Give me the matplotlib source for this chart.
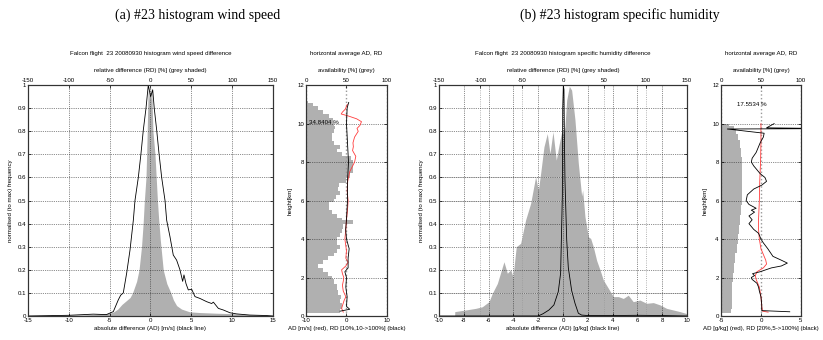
import matplotlib.pyplot as plt
import numpy as np
from matplotlib.ticker import FormatStrFormatter

plt.rcParams['font.family'] = ['Liberation Sans', 'DejaVu Sans']
plt.rcParams['axes.unicode_minus'] = False

# ---------- (a) wind speed: histogram ----------
# relative difference [%] -> normalised frequency (grey)
rd_a = [-150, -100, -80, -62, -50, -45, -40, -35, -30, -25,
        -22, -17, -14, -11, -9, -7.5, -5.5, -4.7, -4.0, -3.4,
        -2.9, -2.2, -1.2, 0.0, 1.0, 1.6, 2.2, 3.0, 5.5, 7.0,
        8.5, 10.0, 12.0, 15.6, 20.0, 25.0, 28.0, 32.0, 38.0, 48.0,
        60.0, 81.0, 101.0, 122.0, 140.0, 150.0]
fq_rd_a = [0.0, 0.003, 0.005, 0.008, 0.012, 0.018, 0.03, 0.05, 0.065, 0.08,
           0.1, 0.15, 0.2, 0.3, 0.4, 0.5, 0.6, 0.7, 0.8, 0.9,
           0.97, 0.99, 0.93, 1.0, 0.94, 0.99, 0.9, 0.8, 0.7, 0.6,
           0.5, 0.42, 0.33, 0.2, 0.14, 0.1, 0.07, 0.045, 0.03, 0.018,
           0.015, 0.012, 0.01, 0.006, 0.003, 0.0]
# absolute difference [m/s] -> normalised frequency (black)
ad_a = [-15, -10, -7, -5.4, -4.55, -3.94, -3.65, -3.33, -2.92, -2.51,
        -2.1, -1.9, -1.49, -1.16, -0.88, -0.55, -0.27, 0.02, 0.27, 0.46,
        0.76, 1.04, 1.37, 1.78, 1.98, 2.39, 2.79, 3.2, 3.61, 3.94,
        4.1, 4.35, 4.63, 5.04, 5.45, 6.06, 6.88, 7.49, 7.7, 8.31,
        8.92, 9.73, 10.55, 12.18, 14.2, 15]
fq_ad_a = [0.0, 0.003, 0.008, 0.006, 0.019, 0.07, 0.09, 0.1, 0.185, 0.285,
           0.415, 0.5, 0.6, 0.705, 0.805, 0.9, 1.0, 0.95, 0.98, 0.9,
           0.805, 0.705, 0.6, 0.5, 0.415, 0.343, 0.264, 0.242, 0.2, 0.15,
           0.178, 0.14, 0.113, 0.116, 0.084, 0.076, 0.062, 0.054, 0.06, 0.033,
           0.026, 0.014, 0.009, 0.004, 0.002, 0.0]

# ---------- (a) wind speed: profile ----------
h_av_a = [0.15, 0.2, 0.5, 0.8, 1.0, 1.2, 1.5, 1.8, 2.0, 2.2,
          2.4, 2.6, 2.8, 3.0, 3.2, 3.4, 3.6, 3.8, 4.0, 4.2,
          4.4, 4.6, 4.75, 4.8, 4.95, 5.0, 5.2, 5.4, 5.6, 5.8,
          6.0, 6.2, 6.4, 6.6, 6.8, 7.0, 7.3, 7.6, 8.0, 8.2,
          8.4, 8.6, 8.8, 9.0, 9.2, 9.4, 9.6, 9.8, 10.0, 10.2,
          10.4, 10.6, 10.8, 11.0, 11.1, 11.2]
avail_a = [0, 42, 44, 42, 43, 40, 38, 34, 32, 27.6,
           20.6, 15.2, 21.4, 27.6, 34, 38, 42, 38, 38.7, 42,
           44, 46, 46, 58, 58, 44, 38, 32, 29, 29,
           34, 37, 42, 40, 41, 50, 54, 57.6, 58.4, 56,
           44, 38, 42, 34, 32, 32, 34, 36, 34, 33,
           29, 21.4, 15.2, 9, 3, 0]
h_red_a = [0.2, 0.4, 0.8, 1.0, 1.3, 1.6, 1.8, 2.0, 2.2, 2.4,
           2.6, 2.8, 3.0, 3.4, 4.0, 4.5, 5.0, 5.5, 6.0, 6.5,
           7.0, 7.5, 8.0, 8.3, 8.6, 8.8, 9.0, 9.3, 9.6, 9.75,
           9.9, 10.1, 10.25, 10.4, 10.5, 10.6, 10.75, 10.9, 11.0]
ad_prof_a = [-0.8, -1.2, -0.6, -0.16, -0.8, -1.0, -0.8, -0.66, -1.0, -1.2,
             -0.16, 0.4, -0.16, 0.0, -0.4, -0.16, 0.0, 0.25, 0.4, 0.16,
             0.3, 0.8, 2.0, 2.3, 1.5, 1.7, 1.6, 2.0, 2.9, 2.6,
             3.3, 3.7, 2.5, 0.4, -1.3, -1.0, -0.3, 0.0, 0.2]
h_blk_a = [0.25, 0.35, 0.5, 1.0, 1.5, 2.0, 2.3, 2.5, 3.0, 3.5,
           4.0, 4.5, 5.0, 6.0, 7.0, 8.0, 9.0, 10.0, 10.5, 10.8,
           11.0, 11.1]
rd_prof_a = [-1.6, 0.8, 0.0, 0.16, -0.16, 0.0, -0.4, 0.4, 0.4, 0.66,
             0.0, -0.2, 0.0, 0.25, 0.25, 0.5, 0.25, 0.0, 0.1, 0.16,
             0.4, 0.55]

# ---------- (b) specific humidity: histogram ----------
rd_b = [-131, -130.9, -117.7, -105.6, -97.6, -89.5, -85.5, -79.4, -71.4, -67.3,
        -63.3, -60.5, -56.5, -51.2, -45.2, -39.1, -33.1, -29.8, -27.0, -23.0,
        -19.0, -15.7, -12.1, -8.1, -4.8, -1.6, 0.4, 2.4, 4.5, 7.7,
        10.5, 14.5, 18.6, 22.6, 23.8, 26.6, 30.7, 33.5, 36.7, 40.8,
        44.8, 48.8, 54.9, 60.9, 67.0, 73.0, 79.0, 85.0, 93.0, 101.2,
        109.3, 117.4, 125.4, 133.5, 141.6, 150.0]
fq_rd_b = [0.0, 0.019, 0.026, 0.033, 0.04, 0.062, 0.098, 0.141, 0.235, 0.185,
           0.2, 0.17, 0.3, 0.315, 0.416, 0.488, 0.603, 0.545, 0.618, 0.733,
           0.79, 0.704, 0.798, 0.675, 0.74, 0.798, 0.79, 0.82, 0.935, 0.995,
           0.978, 0.85, 0.66, 0.52, 0.545, 0.43, 0.343, 0.336, 0.3, 0.24,
           0.2, 0.156, 0.12, 0.084, 0.084, 0.076, 0.09, 0.062, 0.069, 0.055,
           0.058, 0.048, 0.033, 0.026, 0.019, 0.01]
ad_b = [-10, -2.0, -1.6, -1.13, -0.73, -0.38, -0.19, -0.05, -0.02, 0.03,
        0.08, 0.12, 0.16, 0.3, 0.43, 0.7, 0.97, 1.24, 1.5, 2.0,
        4.0, 6.0, 8.0, 10.0]
fq_ad_b = [0.0, 0.0, 0.01, 0.026, 0.048, 0.105, 0.185, 0.52, 0.9, 1.0,
           0.98, 0.75, 0.59, 0.33, 0.21, 0.11, 0.055, 0.012, 0.004, 0.002,
           0.002, 0.003, 0.002, 0.0]

# ---------- (b) specific humidity: profile ----------
h_av_b = [0.15, 0.2, 0.5, 1.0, 1.5, 2.0, 2.5, 3.0, 3.5, 4.0,
          4.5, 5.0, 5.5, 6.0, 6.5, 7.0, 7.5, 8.0, 8.5, 9.0,
          9.3, 9.6, 9.8, 9.98, 10.0]
avail_b = [0, 12, 13.5, 13.5, 14, 15, 16, 18, 19.6, 21.6,
           22.4, 23.7, 24.5, 25.7, 26.5, 26.5, 26.5, 25.7, 24.5, 23.3,
           21.6, 19, 16, 10, 0]
h_red_b = [0.2, 0.25, 0.5, 1.0, 1.5, 1.9, 2.1, 2.3, 2.5, 2.7,
           2.9, 3.2, 3.5, 4.0, 4.5, 5.0, 6.0, 7.0, 8.0, 9.0,
           9.7, 10.0]
ad_prof_b = [0.9, 0.2, 0.1, 0.0, -0.2, -0.6, -0.7, -0.5, 0.3, 0.7,
             0.6, 0.3, 0.0, -0.2, -0.3, -0.3, -0.2, -0.15, -0.05, 0.0,
             0.0, 0.0]
h_blk_b = [0.22, 0.28, 0.6, 1.0, 1.3, 1.5, 1.7, 1.9, 2.0, 2.1,
           2.2, 2.3, 2.5, 2.6, 2.75, 2.9, 3.1, 3.5, 3.8, 4.0,
           4.3, 4.5, 4.8, 5.0, 5.2, 5.4, 5.5, 5.6, 5.8, 6.0,
           6.3, 6.6, 6.8, 7.0, 7.2, 7.4, 7.8, 8.0, 8.2, 8.5,
           8.8, 9.0, 9.3, 9.5, 9.72, 9.74, 9.78, 10.0]
rd_prof_b = [3.6, 0.1, 0.1, 0.0, -0.2, -0.3, -0.5, -1.1, -1.2, -0.8,
             -1.05, -0.1, 1.3, 2.55, 3.3, 2.55, 1.5, 0.85, 0.3, 0.0,
             -0.3, -0.9, -1.5, -1.1, -1.5, -0.8, -1.2, -0.6, -1.5, -1.85,
             -1.7, -0.9, 0.1, 0.7, 0.5, -0.1, -0.9, -1.2, -1.1, -0.6,
             -0.3, -0.1, 0.3, 0.4, -4.2, 9.0, 0.7, 1.65]

GREY = '#b0b0b0'
RED = '#ff3c3c'
FS = 4.4

fig = plt.figure(figsize=(8.23, 3.40), dpi=100)


def frame(ax):
    for s in ax.spines.values():
        s.set_linewidth(0.8)
        s.set_color('#333333')
    ax.tick_params(labelsize=FS, length=2, width=0.5, direction='in', pad=1.5)


def hist_panel(rect, rd, fq_rd, ad, fq_ad, xmax, xstep, title, xlabel, grey_grid):
    ax = fig.add_axes(rect)
    top = ax.twiny()
    top.fill_between(rd, fq_rd, color=GREY, lw=0)
    top.set_xlim(-150, 150)
    top.set_xticks(np.arange(-150, 151, 50))
    top.set_xlabel('relative difference (RD) [%] (grey shaded)', fontsize=FS, labelpad=4)
    if grey_grid:
        top.grid(axis='x', ls=':', color='#999999', lw=0.6)
    frame(top)
    ax.set_zorder(top.get_zorder() + 1)
    ax.patch.set_visible(False)
    if grey_grid:
        for yv in (0.1, 0.5, 0.6):
            ax.axhline(yv, color='#d0d0d0', lw=0.6, zorder=0.5)
    ax.plot(ad, fq_ad, color='k', lw=0.6)
    ax.set_xlim(-xmax, xmax)
    ax.set_ylim(0, 1)
    ax.set_xticks(np.arange(-xmax, xmax + 0.1, xstep))
    ax.set_yticks(np.arange(0, 1.01, 0.1))
    ax.yaxis.set_major_formatter(FormatStrFormatter('%g'))
    ax.xaxis.set_major_formatter(FormatStrFormatter('%g'))
    ax.tick_params(right=True)
    ax.grid(ls=':', color='#222222', lw=0.5)
    ax.set_xlabel(xlabel, fontsize=FS, labelpad=2)
    ax.set_ylabel('normalised (to max) frequency', fontsize=FS, labelpad=3)
    frame(ax)
    x0, y0, w, h = rect
    fig.text(x0 + w / 2, 0.843, title, fontsize=FS, ha='center', va='center')
    return ax


def profile_panel(rect, h_av, avail, h_red, ad_prof, h_blk, rd_prof, xmax,
                  xlabel, note, note_xy):
    ax = fig.add_axes(rect)
    top = ax.twiny()
    top.fill_betweenx(h_av, 0, avail, color=GREY, lw=0, step='mid')
    top.set_xlim(0, 100)
    top.set_xticks([0, 50, 100])
    top.grid(axis='x', ls=':', color='#999999', lw=1.0)
    top.set_xlabel('availability [%] (grey)', fontsize=FS, labelpad=4)
    frame(top)
    ax.set_zorder(top.get_zorder() + 1)
    ax.patch.set_visible(False)
    ax.plot(ad_prof, h_red, color=RED, lw=0.6)
    ax.plot(rd_prof, h_blk, color='k', lw=0.6)
    ax.set_xlim(-xmax, xmax)
    ax.set_ylim(0, 12)
    ax.set_xticks([-xmax, 0, xmax])
    ax.set_yticks(range(0, 13, 2))
    ax.tick_params(right=True)
    ax.grid(axis='y', ls=':', color='#222222', lw=0.5)
    ax.set_xlabel(xlabel, fontsize=FS, labelpad=2)
    ax.set_ylabel('height[km]', fontsize=FS, labelpad=3)
    ax.text(note_xy[0], note_xy[1], note, fontsize=FS, va='center')
    frame(ax)
    x0, y0, w, h = rect
    fig.text(x0 + w / 2, 0.843, 'horizontal average AD, RD', fontsize=FS,
             ha='center', va='center')
    return ax


# ---- panel (a) ----
hist_panel([0.034, 0.0706, 0.2977, 0.679], rd_a, fq_rd_a, ad_a, fq_ad_a, 15, 5,
           'Falcon flight  23 20080930 histogram wind speed difference',
           'absolute difference (AD) [m/s] (black line)', False)
profile_panel([0.3718, 0.0706, 0.0984, 0.679], h_av_a, avail_a, h_red_a, ad_prof_a,
              h_blk_a, rd_prof_a, 10,
              'AD [m/s] (red), RD [10%,10->100%] (black)', '34.8404 %', (-9.2, 10.05))

# ---- panel (b) ----
hist_panel([0.5334, 0.0706, 0.3013, 0.679], rd_b, fq_rd_b, ad_b, fq_ad_b, 10, 2,
           'Falcon flight  23 20080930 histogram specific humidity difference',
           'absolute difference (AD) [g/kg] (black line)', True)
profile_panel([0.876, 0.0706, 0.0972, 0.679], h_av_b, avail_b, h_red_b, ad_prof_b,
              h_blk_b, rd_prof_b, 5,
              'AD [g/kg] (red), RD [20%,5->100%] (black)', '17.5534 %', (-3.0, 11.0))

fig.text(0.2406, 0.956, '(a) #23 histogram wind speed', fontsize=10,
         family='Liberation Serif', ha='center', va='center')
fig.text(0.753, 0.956, '(b) #23 histogram specific humidity', fontsize=10,
         family='Liberation Serif', ha='center', va='center')

fig.savefig('out.png', dpi=100)
